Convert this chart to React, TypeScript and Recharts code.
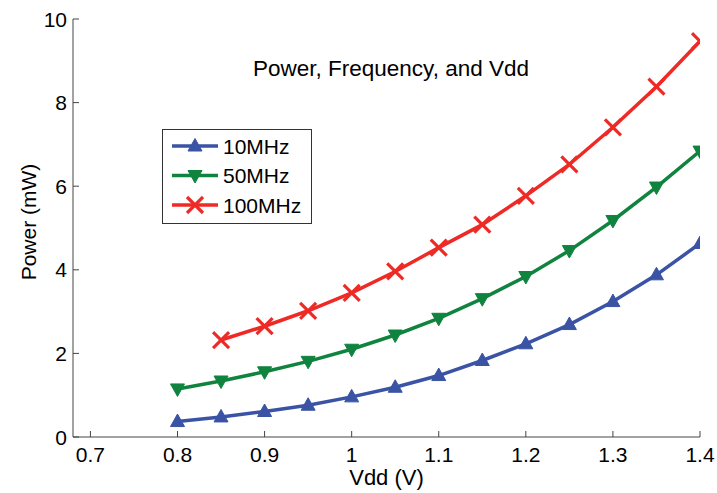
import React from "react";
import { LineChart, Line, XAxis, YAxis, Legend, Label } from "recharts";

const vdd = [0.8, 0.85, 0.9, 0.95, 1.0, 1.05, 1.1, 1.15, 1.2, 1.25, 1.3, 1.35, 1.4];
const p10MHz = [0.37, 0.48, 0.61, 0.76, 0.96, 1.19, 1.47, 1.83, 2.23, 2.69, 3.24, 3.88, 4.63];
const p50MHz = [1.15, 1.34, 1.56, 1.81, 2.1, 2.44, 2.84, 3.31, 3.84, 4.46, 5.18, 5.98, 6.84];
const p100MHz = [null, 2.32, 2.65, 3.02, 3.45, 3.96, 4.53, 5.08, 5.77, 6.52, 7.41, 8.38, 9.47];
const xTicks = [0.7, 0.8, 0.9, 1.0, 1.1, 1.2, 1.3, 1.4];
const yTicks = [0, 2, 4, 6, 8, 10];
const seriesKeys = ["p10", "p50", "p100"];

const seriesNames = { p10: "10MHz", p50: "50MHz", p100: "100MHz" };
const colors = { p10: "#3A53A4", p50: "#10843F", p100: "#EE2A26" };

const data = vdd.map((v, i) => ({ vdd: v, p10: p10MHz[i], p50: p50MHz[i], p100: p100MHz[i] }));

const FONT = "'Liberation Sans', Arial, sans-serif";
const TICK_FS = 21;

function Marker({ kind, cx, cy, color }) {
  if (cx == null || cy == null || isNaN(cx) || isNaN(cy)) return null;
  if (kind === "up") {
    return (
      <polygon
        points={`${cx},${cy - 7.5} ${cx - 7},${cy + 5} ${cx + 7},${cy + 5}`}
        fill={color}
        stroke={color}
        strokeWidth={1}
      />
    );
  }
  if (kind === "down") {
    return (
      <polygon
        points={`${cx},${cy + 7.5} ${cx - 7},${cy - 5} ${cx + 7},${cy - 5}`}
        fill={color}
        stroke={color}
        strokeWidth={1}
      />
    );
  }
  return (
    <g stroke={color} strokeWidth={3.2}>
      <line x1={cx - 8} y1={cy - 8} x2={cx + 8} y2={cy + 8} />
      <line x1={cx - 8} y1={cy + 8} x2={cx + 8} y2={cy - 8} />
    </g>
  );
}

const markerKind = { p10: "up", p50: "down", p100: "x" };

const makeDot = (key) => (props) => (
  <Marker key={`${key}-${props.index}`} kind={markerKind[key]} cx={props.cx} cy={props.cy} color={colors[key]} />
);

function LegendBox(props) {
  const payload = props.payload || [];
  const items = seriesKeys.map((k) => {
    const p = payload.find((q) => q.dataKey === k);
    return { key: k, name: p ? p.value : seriesNames[k], color: p ? p.color : colors[k] };
  });
  return (
    <svg width={150} height={95} style={{ display: "block" }}>
      <rect x={0.5} y={0.5} width={149} height={94} fill="#fff" stroke="#333" strokeWidth={1} />
      {items.map((it, i) => {
        const cy = 17 + i * 29.5;
        return (
          <g key={it.key}>
            <line x1={10} y1={cy} x2={56} y2={cy} stroke={it.color} strokeWidth={3.5} />
            <Marker kind={markerKind[it.key]} cx={33} cy={cy} color={it.color} />
            <text x={61} y={cy} dy="0.36em" fontSize={21} fontFamily={FONT} fill="#000">
              {it.name}
            </text>
          </g>
        );
      })}
    </svg>
  );
}

const YLabel = (props) => {
  const vb = props.viewBox || { x: 0, y: 19, width: 73, height: 418 };
  const x = vb.x + 36;
  const y = vb.y + vb.height / 2 - 6;
  return (
    <text x={x} y={y} transform={`rotate(-90, ${x}, ${y})`} textAnchor="middle" fontSize={21} fontFamily={FONT} fill="#000">
      Power (mW)
    </text>
  );
};

const XTick = (props) => {
  const { x, y, payload } = props;
  return (
    <text x={x} y={y} dy="0.71em" textAnchor="middle" fontSize={TICK_FS} fontFamily={FONT} fill="#000">
      {String(payload.value)}
    </text>
  );
};

const YTick = (props) => {
  const { x, y, payload } = props;
  return (
    <text x={x} y={y} dy="0.36em" textAnchor="end" fontSize={TICK_FS} fontFamily={FONT} fill="#000">
      {String(payload.value)}
    </text>
  );
};

const axisColor = "#444";

export default function App() {
  return (
    <div style={{ position: "absolute", left: 0, top: 0, width: 717, height: 493, background: "#fff" }}>
      <LineChart width={717} height={493} data={data} margin={{ top: 19, right: 17, left: 0, bottom: 0 }}>
        <XAxis
          xAxisId="b"
          dataKey="vdd"
          type="number"
          domain={[0.68, 1.4]}
          ticks={xTicks}
          allowDataOverflow
          height={56}
          tickSize={-6}
          tickMargin={16}
          stroke={axisColor}
          tick={XTick}
          tickLine={{ stroke: axisColor }}
          axisLine={{ stroke: axisColor }}
        >
          <Label value="Vdd (V)" position="insideBottom" offset={8} fontSize={22} fontFamily={FONT} fill="#000" />
        </XAxis>
        <XAxis
          xAxisId="t"
          orientation="top"
          dataKey="vdd"
          type="number"
          domain={[0.68, 1.4]}
          ticks={xTicks}
          allowDataOverflow
          height={0}
          tickSize={-6}
          tick={false}
          stroke={axisColor}
          tickLine={{ stroke: axisColor }}
          axisLine={{ stroke: axisColor }}
        />
        <YAxis
          yAxisId="l"
          type="number"
          domain={[0, 10]}
          ticks={yTicks}
          width={73}
          tickSize={-6}
          tickMargin={12}
          stroke={axisColor}
          tick={YTick}
          tickLine={{ stroke: axisColor }}
          axisLine={{ stroke: axisColor }}
        >
          <Label content={YLabel} />
        </YAxis>
        <YAxis
          yAxisId="r"
          orientation="right"
          type="number"
          domain={[0, 10]}
          ticks={yTicks}
          width={0}
          tickSize={-6}
          tick={false}
          stroke={axisColor}
          tickLine={{ stroke: axisColor }}
          axisLine={{ stroke: axisColor }}
        />
        <Legend
          content={LegendBox}
          layout="vertical"
          align="center"
          verticalAlign="middle"
          wrapperStyle={{ position: "absolute", left: 162, top: 129, width: 150, height: 95 }}
        />
        {seriesKeys.map((k) => (
          <Line
            key={k}
            xAxisId="b"
            yAxisId="l"
            dataKey={k}
            name={seriesNames[k]}
            stroke={colors[k]}
            strokeWidth={3.5}
            dot={makeDot(k)}
            activeDot={false}
            isAnimationActive={false}
            type="linear"
          />
        ))}
      </LineChart>
      <svg width={717} height={100} style={{ position: "absolute", left: 0, top: 0, pointerEvents: "none" }}>
        <text x={391} y={76} textAnchor="middle" fontSize={22.5} fontFamily={FONT} fill="#000">
          Power, Frequency, and Vdd
        </text>
      </svg>
    </div>
  );
}
